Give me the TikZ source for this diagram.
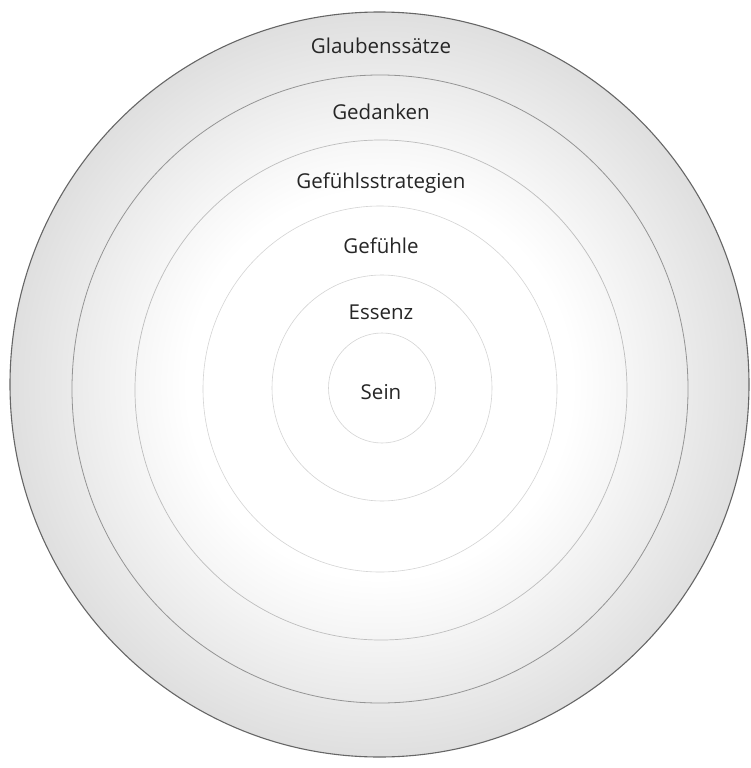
\documentclass[tikz,border=0pt]{standalone}
\usepackage{fontspec}
\setmainfont{Open Sans}
\definecolor{shadeA}{HTML}{F5F5F5}
\definecolor{shadeB}{HTML}{EAEAEA}
\definecolor{shadeC}{HTML}{DFDFDF}
\definecolor{txt}{HTML}{262626}
\pgfdeclareradialshading{discshade}{\pgfpointorigin}{color(0bp)=(white); color(13bp)=(white); color(17bp)=(shadeA); color(21bp)=(shadeB); color(25bp)=(shadeC); color(50bp)=(shadeC)}
\tikzset{
  outerline/.style={draw=black!60, line width=1.1pt},
  ringA/.style={draw=black!42, line width=0.8pt},
  ringB/.style={draw=black!26, line width=0.7pt},
  ringC/.style={draw=black!17, line width=0.6pt},
  lbl/.style={anchor=base, text=txt, inner sep=0pt, font=\fontsize{20.5}{24}\selectfont}
}
\begin{document}
\begin{tikzpicture}[x=1pt,y=-1pt]
\useasboundingbox (0,0) rectangle (750,768);
\fill[white] (0,0) rectangle (750,768);
\shade[shading=discshade] (379.5,384.5) ellipse [x radius=369.5pt, y radius=372.5pt];
\draw[outerline] (379.5,384.5) ellipse [x radius=369.5pt, y radius=372.5pt];
\draw[ringA] (380,389) ellipse [x radius=308pt, y radius=314pt];
\draw[ringB] (381,390) ellipse [x radius=246pt, y radius=250pt];
\draw[ringC] (380,389) ellipse [x radius=177pt, y radius=183pt];
\draw[ringC] (382,388) ellipse [x radius=110pt, y radius=113pt];
\draw[ringC] (382,388) ellipse [x radius=53.5pt, y radius=55pt];
\node[lbl] (glaub) at (381,54) {Glaubenssätze};
\node[lbl] (gedanken) at (381,119) {Gedanken};
\node[lbl] (strat) at (381,188) {Gefühlsstrategien};
\node[lbl] (gefuehle) at (381,253) {Gefühle};
\node[lbl] (essenz) at (381,319) {Essenz};
\node[lbl] (sein) at (381,399) {Sein};
\end{tikzpicture}
\end{document}
